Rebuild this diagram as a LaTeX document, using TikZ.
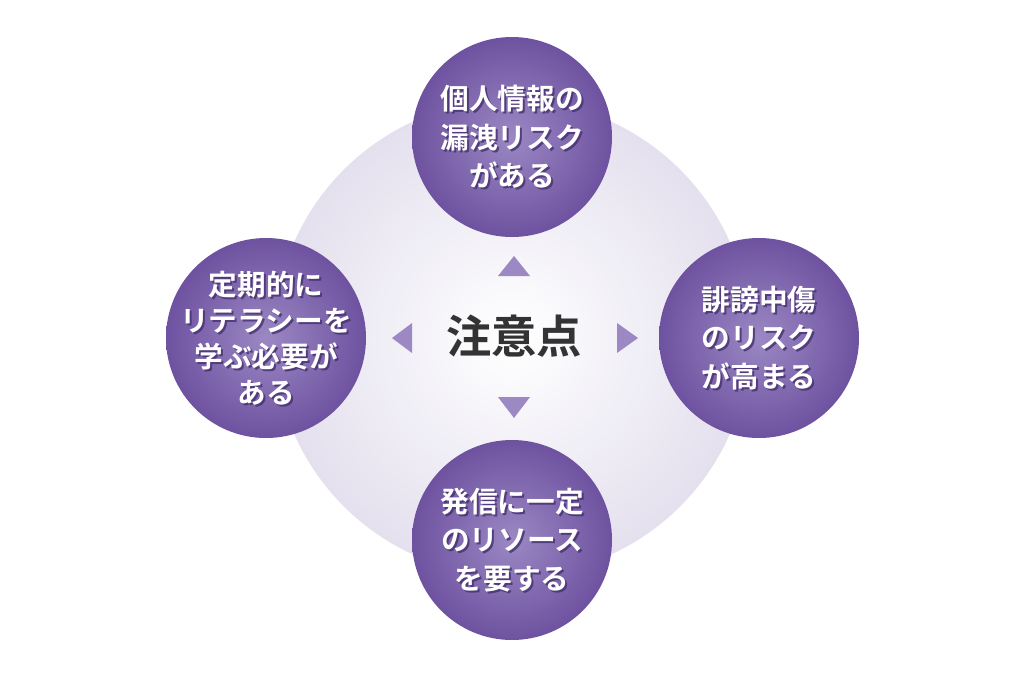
\documentclass[tikz,border=0pt]{standalone}
\usepackage{fontspec}
\usepackage{tikz}
\usetikzlibrary{positioning,calc}
\newfontfamily\jpfont{Noto Sans CJK JP Bold}
\definecolor{ringcore}{HTML}{FFFFFF}
\definecolor{ringedge}{HTML}{E4E0EE}
\definecolor{bubblecore}{HTML}{9B88C3}
\definecolor{bubbleedge}{HTML}{6E52A0}
\definecolor{marker}{HTML}{9C88C3}
\definecolor{ink}{HTML}{333333}
\definecolor{textshade}{HTML}{45306F}
\tikzset{
  ring/.style={circle,minimum size=357pt,inner sep=0pt,
    inner color=ringcore,outer color=ringedge},
  bubble/.style={circle,minimum size=150pt,inner sep=0pt,
    inner color=bubblecore,outer color=bubbleedge},
  bubbletext/.style={align=center,text=white,font=\jpfont\fontsize{21.5pt}{29pt}\selectfont},
  bubbleshade/.style={bubbletext,text=textshade,opacity=0.8},
  hubtext/.style={text=ink,font=\jpfont\fontsize{34pt}{40pt}\selectfont},
  marker/.style={fill=marker}
}
\begin{document}
\begin{tikzpicture}[x=0.75pt,y=-0.75pt]
  \useasboundingbox (0,0) rectangle (1024,682);
  \node[ring] (ring) at (512,338) {};
  \node[hubtext] (hub) at (514,336) {注意点};
  % bubbles
  \node[bubble] (risk) at (512,137) {};
  \node[bubble] (slander) at (759,338) {};
  \node[bubble] (cost) at (512,540) {};
  \node[bubble] (study) at (266,338) {};
  % labels with shadow
  \node[bubbleshade] at ($(risk)+(2,2)$) {個人情報の\\漏洩リスク\\がある};
  \node[bubbletext] at (risk) {個人情報の\\漏洩リスク\\がある};
  \node[bubbleshade] at ($(slander)+(2,2)$) {誹謗中傷\\のリスク\\が高まる};
  \node[bubbletext] at (slander) {誹謗中傷\\のリスク\\が高まる};
  \node[bubbleshade] at ($(cost)+(2,2)$) {発信に一定\\のリソース\\を要する};
  \node[bubbletext] at (cost) {発信に一定\\のリソース\\を要する};
  \node[bubbleshade,font=\jpfont\fontsize{21.5pt}{27pt}\selectfont] at ($(study)+(2,2)$) {定期的に\\リテラシーを\\学ぶ必要が\\ある};
  \node[bubbletext,font=\jpfont\fontsize{21.5pt}{27pt}\selectfont] at (study) {定期的に\\リテラシーを\\学ぶ必要が\\ある};
  % markers
  \fill[marker] ($(hub)+(0,-80)$) -- ($(hub)+(16,-60)$) -- ($(hub)+(-16,-60)$) -- cycle;
  \fill[marker] ($(hub)+(0,82)$) -- ($(hub)+(16,61)$) -- ($(hub)+(-16,61)$) -- cycle;
  \fill[marker] ($(hub)+(-122,2)$) -- ($(hub)+(-102,-13)$) -- ($(hub)+(-102,17)$) -- cycle;
  \fill[marker] ($(hub)+(124,2)$) -- ($(hub)+(103,-13)$) -- ($(hub)+(103,17)$) -- cycle;
\end{tikzpicture}
\end{document}
